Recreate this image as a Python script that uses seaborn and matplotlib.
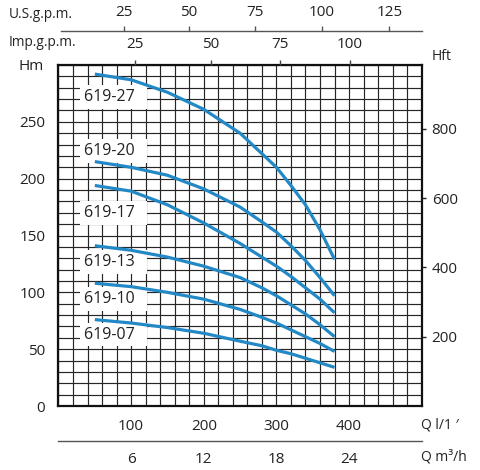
import numpy as np
import pandas as pd
import matplotlib
matplotlib.use("Agg")
import matplotlib.pyplot as plt
import seaborn as sns

# ---------------- data ----------------
flow_lpm = [50, 100, 150, 200, 250, 280, 300, 320, 340, 360, 380]
h_619_27 = [292, 287, 276, 261, 240, 222, 210, 194, 177, 155, 129]
h_619_20 = [215, 210, 203, 191, 175, 162, 153, 141, 128, 113, 97]
h_619_17 = [194, 189, 177, 161, 143, 131, 123, 114, 104, 94, 82]
h_619_13 = [141, 137, 131, 123, 113, 104, 97, 89, 81, 71.5, 61]
h_619_10 = [108, 105, 100, 94, 85, 78, 73, 67, 61, 55, 48]
h_619_07 = [76, 73, 69, 64, 57, 53, 49, 46, 42, 38, 34]
models = ["619-27", "619-20", "619-17", "619-13", "619-10", "619-07"]
label_heads = [271.6, 224, 170, 126.8, 94.3, 62.9]

q_lpm_ticks = [100, 200, 300, 400]
hm_ticks = [0, 50, 100, 150, 200, 250]
hft_ticks = [200, 400, 600, 800]
m3h_ticks = [6, 12, 18, 24]
imp_gpm_labels = [25, 50, 75, 100]
imp_gpm_pos = [105, 210, 305, 401]
us_gpm_labels = [25, 50, 75, 100, 125]
us_gpm_pos = [85, 175, 267, 361, 455]

# ---------------- style ----------------
sns.set_style("white")
plt.rcParams["font.family"] = ["Open Sans", "DejaVu Sans"]
TXT = "#222222"
BLUE = "#2389c6"

W, H = 481, 470
fig = plt.figure(figsize=(W / 100, H / 100), dpi=100)

def fx(px):
    return px / W

def fy(py):
    return 1 - py / H

L, R, T, B = 58.5, 421.7, 65.0, 406.0
ax = fig.add_axes([fx(L), fy(B), (R - L) / W, (B - T) / H])

frames = []
for name, vals in zip(models, [h_619_27, h_619_20, h_619_17, h_619_13, h_619_10, h_619_07]):
    frames.append(pd.DataFrame({"flow": flow_lpm, "head": vals, "model": name}))
df = pd.concat(frames, ignore_index=True)

sns.lineplot(data=df, x="flow", y="head", hue="model", palette=[BLUE] * len(models),
             legend=False, linewidth=2.3, ax=ax, zorder=4)
for ln in ax.get_lines():
    ln.set_solid_joinstyle("round")
    ln.set_solid_capstyle("butt")

ax.set_xlim(0, 500)
ax.set_ylim(0, 300)
xt = np.arange(0, 501, 20)
yt = np.arange(0, 301, 10)
ax.set_xticks(xt)
ax.set_xticklabels([str(v) if v in q_lpm_ticks else "" for v in xt])
ax.set_yticks(yt)
ax.set_yticklabels([str(v) if v in hm_ticks else "" for v in yt])
ax.tick_params(axis="x", length=0, pad=9.5, labelsize=11, labelcolor=TXT)
ax.tick_params(axis="y", length=0, pad=9.5, labelsize=11, labelcolor=TXT)
ax.set_xlabel("")
ax.set_ylabel("")
ax.set_axisbelow(True)
ax.grid(True, color="#262626", linewidth=0.85)
for s in ax.spines.values():
    s.set_color("#111111")
    s.set_linewidth(1.6)

for name, yh in zip(models, label_heads):
    ax.text(35, yh, name + "  ", ha="left", va="center", fontsize=11.5, color=TXT, zorder=3,
            bbox=dict(boxstyle="square,pad=0.25", fc="white", ec="none"))

# right axis in feet
axr = ax.twinx()
axr.set_ylim(0, 300 * 3.281)
axr.set_yticks(hft_ticks)
axr.set_yticklabels([str(v) for v in hft_ticks])
axr.tick_params(axis="y", length=2.6, width=1, pad=4.6, labelsize=11, labelcolor=TXT, color=TXT)
for s in axr.spines.values():
    s.set_visible(False)
axr.grid(False)

# top Imp gpm axis (on plot frame)
axt = ax.twiny()
axt.set_xlim(0, 500)
axt.set_xticks(imp_gpm_pos)
axt.set_xticklabels([str(v) for v in imp_gpm_labels])
axt.tick_params(axis="x", length=3.6, width=1, pad=5.5, labelsize=11, labelcolor=TXT, color="#444444")
for s in axt.spines.values():
    s.set_visible(False)
axt.grid(False)

# top US gpm axis (separate line)
axu = fig.add_axes([fx(61), fy(31), (R - 61) / W, 0.0001])
axu.set_xlim(-(61 - L) / 0.7264, 500)
axu.xaxis.set_ticks_position("top")
axu.xaxis.set_label_position("top")
axu.set_xticks(us_gpm_pos)
axu.set_xticklabels([str(v) for v in us_gpm_labels])
axu.tick_params(axis="x", direction="out", length=3.6, width=1, pad=4.0, labelsize=11,
                labelcolor=TXT, color="#555555")
axu.set_yticks([])
for k, s in axu.spines.items():
    s.set_visible(k == "top")
axu.spines["top"].set_color("#555555")
axu.spines["top"].set_linewidth(1.0)
axu.patch.set_visible(False)

# bottom m3/h axis
axb = fig.add_axes([fx(L), fy(440.7), (R - L) / W, 0.0001])
axb.set_xlim(0, 500)
axb.set_xticks([v * 1000 / 60 for v in m3h_ticks])
axb.set_xticklabels([str(v) for v in m3h_ticks])
axb.tick_params(axis="x", direction="out", length=3.2, width=1, pad=4.6, labelsize=11,
                labelcolor=TXT, color="#555555")
axb.set_yticks([])
for k, s in axb.spines.items():
    s.set_visible(k == "bottom")
axb.spines["bottom"].set_color("#555555")
axb.spines["bottom"].set_linewidth(1.0)
axb.patch.set_visible(False)

# axis names
fig.text(fx(9), fy(15), "U.S.g.p.m.", ha="left", va="center", fontsize=9.8, color=TXT)
fig.text(fx(9), fy(42), "Imp.g.p.m.", ha="left", va="center", fontsize=9.8, color=TXT)
fig.text(fx(18), fy(66), "Hm", ha="left", va="center", fontsize=11, color=TXT)
fig.text(fx(432), fy(57), "Hft", ha="left", va="center", fontsize=10, color=TXT)
fig.text(fx(421), fy(425), "Q l/1 ′", ha="left", va="center", fontsize=10, color=TXT)
fig.text(fx(421), fy(457), "Q m³/h", ha="left", va="center", fontsize=10, color=TXT)

fig.savefig("out.png", dpi=100)
